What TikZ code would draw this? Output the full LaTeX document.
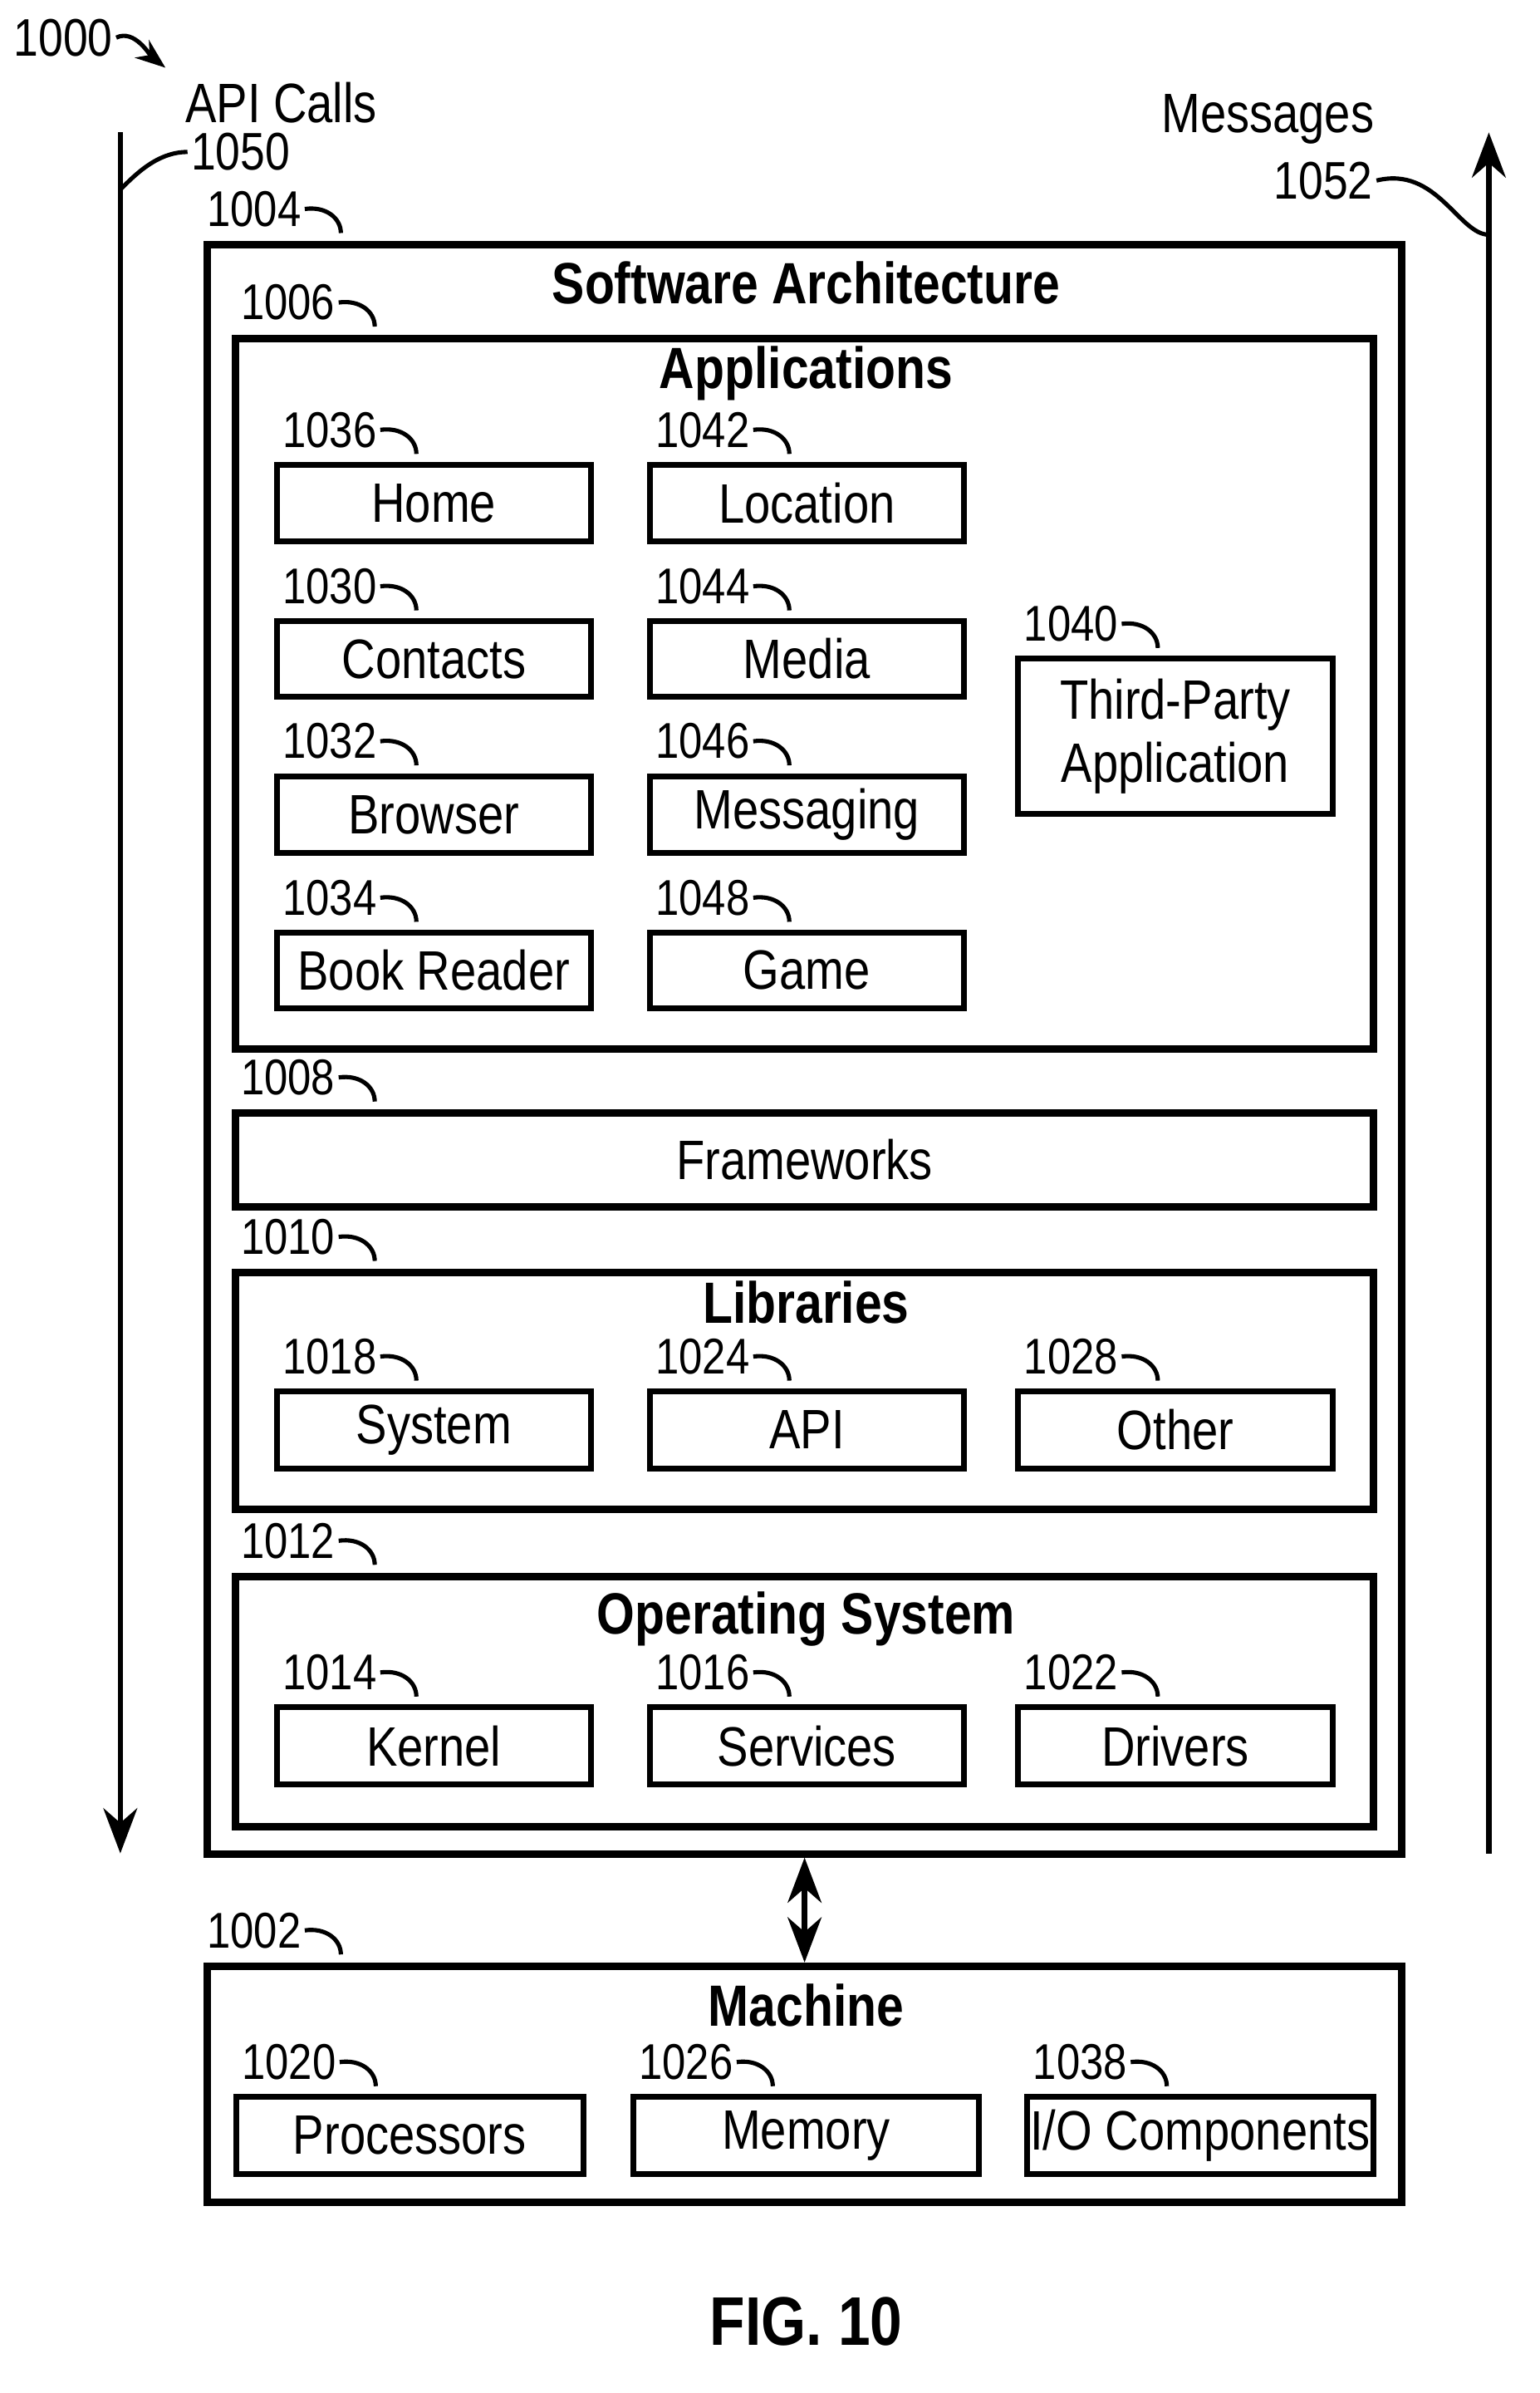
\documentclass[tikz,border=0pt]{standalone}
\usepackage{fontspec}
\setmainfont{Liberation Sans}[FakeStretch=0.84]
\usetikzlibrary{arrows.meta}
\tikzset{
  box/.style={draw, line width=1.1pt, inner sep=0pt, font=\fontsize{10.5}{12}\selectfont, align=center},
  frame/.style={draw, line width=1.4pt},
  title/.style={font=\fontsize{11}{13}\selectfont\bfseries},
  num/.style={font=\fontsize{9.5}{11}\selectfont, inner sep=0.5pt},
  tick/.style={line width=0.8pt},
  flow/.style={line width=1pt, -{Stealth[length=3mm]}}
}
% name, center, width, height, text, number
\newcommand{\unitbox}[6]{%
  \node[box, minimum width=#3, minimum height=#4] (#1) at (#2) {#5};
  \node[num, anchor=south west, xshift=1pt, yshift=2pt] (#1n) at (#1.north west) {#6};
  \draw[tick] (#1n.east) .. controls +(14,-2) and +(0,-10) .. +(24,16);
}
\begin{document}
\begin{tikzpicture}[x=0.01cm, y=-0.01cm]
\useasboundingbox (0,0) rectangle (1024,1590.7);
% outer software architecture
\node[frame, minimum width=7.94cm, minimum height=10.69cm] (sa) at (535,697.5) {};
\node[title] at (536,188) {Software Architecture};
\node[num, anchor=south west, xshift=0pt, yshift=2pt] (san) at (sa.north west) {1004};
\draw[tick] (san.east) .. controls +(14,-2) and +(0,-10) .. +(24,16);
% applications
\node[frame, minimum width=7.56cm, minimum height=4.72cm] (apps) at (535,461) {};
\node[title] at (536,248) {Applications};
\node[num, anchor=south west, xshift=1pt, yshift=2pt] (appsn) at (apps.north west) {1006};
\draw[tick] (appsn.east) .. controls +(14,-2) and +(0,-10) .. +(24,16);
\unitbox{home}{288.5,334.5}{2.09cm}{0.51cm}{Home}{1036}
\unitbox{contacts}{288.5,438}{2.09cm}{0.5cm}{Contacts}{1030}
\unitbox{browser}{288.5,541.5}{2.09cm}{0.51cm}{Browser}{1032}
\unitbox{book}{288.5,645}{2.09cm}{0.5cm}{Book Reader}{1034}
\unitbox{location}{536.5,334.5}{2.09cm}{0.51cm}{Location}{1042}
\unitbox{media}{536.5,438}{2.09cm}{0.5cm}{Media}{1044}
\unitbox{messaging}{536.5,541.5}{2.09cm}{0.51cm}{Messaging}{1046}
\unitbox{game}{536.5,645}{2.09cm}{0.5cm}{Game}{1048}
\unitbox{third}{781.5,489.5}{2.09cm}{1.03cm}{Third-Party\\Application}{1040}
% frameworks
\node[box, frame, minimum width=7.56cm, minimum height=0.62cm] (fw) at (535,771) {Frameworks};
\node[num, anchor=south west, xshift=1pt, yshift=2pt] (fwn) at (fw.north west) {1008};
\draw[tick] (fwn.east) .. controls +(14,-2) and +(0,-10) .. +(24,16);
% libraries
\node[frame, minimum width=7.56cm, minimum height=1.57cm] (libs) at (535,924.5) {};
\node[title] at (536,866) {Libraries};
\node[num, anchor=south west, xshift=1pt, yshift=2pt] (libsn) at (libs.north west) {1010};
\draw[tick] (libsn.east) .. controls +(14,-2) and +(0,-10) .. +(24,16);
\unitbox{system}{288.5,950.5}{2.09cm}{0.51cm}{System}{1018}
\unitbox{api}{536.5,950.5}{2.09cm}{0.51cm}{API}{1024}
\unitbox{other}{781.5,950.5}{2.09cm}{0.51cm}{Other}{1028}
% operating system
\node[frame, minimum width=7.56cm, minimum height=1.66cm] (os) at (535,1131) {};
\node[title] at (536,1076) {Operating System};
\node[num, anchor=south west, xshift=1pt, yshift=2pt] (osn) at (os.north west) {1012};
\draw[tick] (osn.east) .. controls +(14,-2) and +(0,-10) .. +(24,16);
\unitbox{kernel}{288.5,1160.5}{2.09cm}{0.51cm}{Kernel}{1014}
\unitbox{services}{536.5,1160.5}{2.09cm}{0.51cm}{Services}{1016}
\unitbox{drivers}{781.5,1160.5}{2.09cm}{0.51cm}{Drivers}{1022}
% machine
\node[frame, minimum width=7.94cm, minimum height=1.57cm] (mach) at (535,1385.5) {};
\node[title] at (536,1333) {Machine};
\node[num, anchor=south west, xshift=0pt, yshift=2pt] (machn) at (mach.north west) {1002};
\draw[tick] (machn.east) .. controls +(14,-2) and +(0,-10) .. +(24,16);
\unitbox{proc}{272.5,1419.5}{2.31cm}{0.51cm}{Processors}{1020}
\unitbox{mem}{536,1419.5}{2.30cm}{0.51cm}{Memory}{1026}
\unitbox{io}{798,1419.5}{2.30cm}{0.51cm}{I/O Components}{1038}
\draw[line width=1pt, {Stealth[length=3mm]}-{Stealth[length=3mm]}] (sa.south) -- (mach.north);
% api calls / messages
\coordinate (apitop) at (80,88);
\coordinate (apibot) at (80,1232);
\draw[flow] (apitop) -- (apibot);
\node[num, font=\fontsize{10.5}{12}\selectfont] (apil) at (187,68) {API Calls};
\node[num, font=\fontsize{10}{12}\selectfont] (apin) at (160,101) {1050};
\draw[tick] (apin.west) .. controls +(-20,0) and +(10,-10) .. (80,126);
\coordinate (msgbot) at (990,1232);
\coordinate (msgtop) at (990,88);
\draw[flow] (msgbot) -- (msgtop);
\node[num, font=\fontsize{10.5}{12}\selectfont] (msgl) at (843,79) {Messages};
\node[num, font=\fontsize{10}{12}\selectfont] (msgn) at (880,120) {1052};
\draw[tick] (msgn.east) .. controls +(40,-10) and +(-20,0) .. (990,156);
% figure number
\node[num, font=\fontsize{10}{12}\selectfont] (fig) at (42,25) {1000};
\draw[tick, -{Stealth[length=2mm]}] (fig.east) .. controls +(12,-6) and +(-10,-8) .. (110,45);
\node[title, font=\fontsize{13}{15}\selectfont\bfseries] (figl) at (536,1543) {FIG. 10};
\end{tikzpicture}
\end{document}
